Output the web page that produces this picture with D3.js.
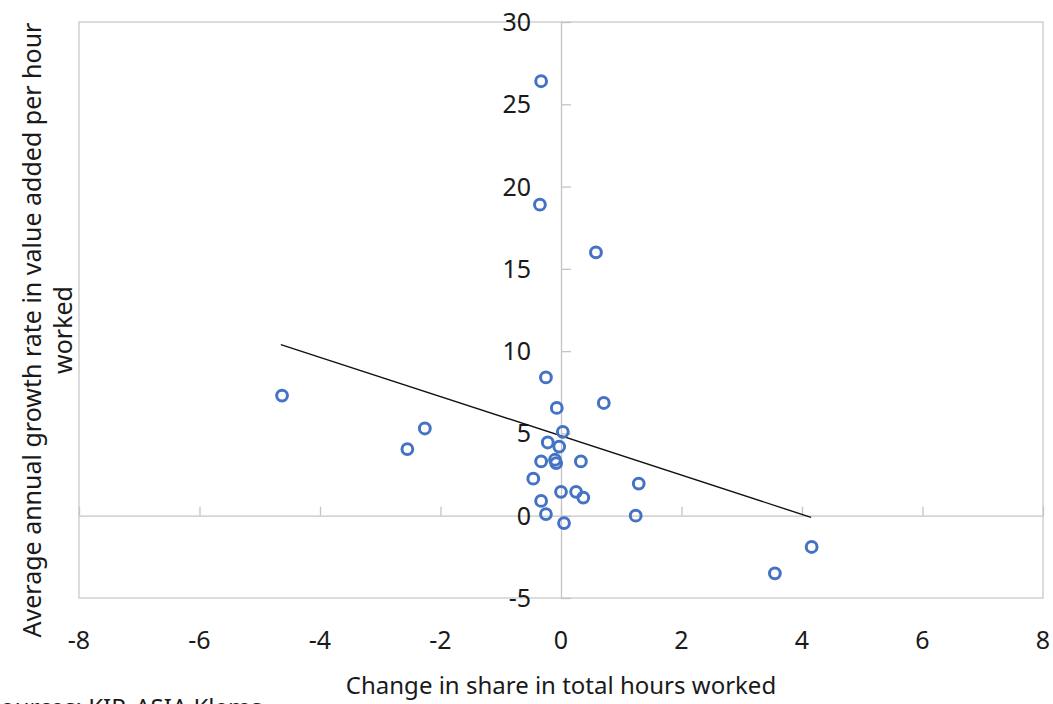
<!DOCTYPE html>
<html>
<head>
<meta charset="utf-8">
<script src="https://cdn.jsdelivr.net/npm/d3@7"></script>
<style>
  body { margin: 0; background: #fff; }
  svg { display: block; font-family: "Noto Sans", sans-serif; }
</style>
</head>
<body>
<svg id="chart" width="1053" height="704"></svg>
<script>
`use strict`;

// change in share of total hours worked (x) vs growth in VA per hour (y)
const shareChange = [-0.33, -0.35, 0.58, -0.25, 0.71, -0.07, 0.03, -0.22, -0.03, -0.33,
  -0.1, -0.08, 0.33, -0.46, 1.29, 0.0, 0.25, 0.37, -0.33, -0.25, 1.24, 0.05,
  -4.63, -2.55, -2.26, 4.16, 3.55];
const growthRate = [26.4, 18.9, 16.0, 8.4, 6.85, 6.55, 5.1, 4.45, 4.2, 3.3,
  3.4, 3.2, 3.3, 2.25, 1.95, 1.45, 1.45, 1.1, 0.9, 0.1, 0.0, -0.45,
  7.3, 4.05, 5.3, -1.9, -3.5];

const trendX = [-4.65, 4.15];
const trendY = [10.4, -0.1];

const xTicks = [-8, -6, -4, -2, 0, 2, 4, 6, 8];
const yTicks = [-5, 0, 5, 10, 15, 20, 25, 30];

(function () {

  const svg = d3.select(`#chart`);

  const x = d3.scaleLinear().domain([-8, 8]).range([79, 1043]);
  const y = d3.scaleLinear().domain([-5, 30]).range([598, 22]);

  // plot box
  svg.append(`rect`)
    .attr(`x`, x(-8)).attr(`y`, y(30))
    .attr(`width`, x(8) - x(-8)).attr(`height`, y(-5) - y(30))
    .attr(`fill`, `none`)
    .attr(`stroke`, `#c9c9c9`)
    .style(`stroke-width`, 1.3);

  // x axis sits on y = 0, ticks pointing up
  let xAxis = svg.append(`g`)
    .attr(`transform`, `translate(0,${y(0)})`)
    .call(d3.axisTop(x).tickValues(xTicks).tickSize(9).tickFormat(``).tickSizeOuter(0));

  // y axis sits on x = 0, ticks pointing right
  let yAxis = svg.append(`g`)
    .attr(`transform`, `translate(${x(0)},0)`)
    .call(d3.axisRight(y).tickValues(yTicks).tickSize(10).tickFormat(``).tickSizeOuter(0));

  [xAxis, yAxis].forEach(g => {
    g.select(`.domain`).attr(`stroke`, `#c4c4c4`).style(`stroke-width`, 1.3);
    g.selectAll(`.tick line`).attr(`stroke`, `#c4c4c4`).style(`stroke-width`, 1.3);
  });

  // tick labels
  svg.append(`g`).selectAll(`text`).data(xTicks)
    .enter()
    .append(`text`)
    .attr(`x`, d => x(d))
    .attr(`y`, 649)
    .attr(`text-anchor`, `middle`)
    .style(`font-size`, `25px`)
    .attr(`fill`, `#1a1a1a`)
    .text(d => d);

  svg.append(`g`).selectAll(`text`).data(yTicks)
    .enter()
    .append(`text`)
    .attr(`x`, 531)
    .attr(`y`, d => y(d))
    .attr(`dy`, `0.36em`)
    .attr(`text-anchor`, `end`)
    .style(`font-size`, `25px`)
    .attr(`fill`, `#1a1a1a`)
    .text(d => d);

  // trend line
  svg.append(`line`)
    .attr(`x1`, x(trendX[0])).attr(`y1`, y(trendY[0]))
    .attr(`x2`, x(trendX[1])).attr(`y2`, y(trendY[1]))
    .attr(`stroke`, `#111`)
    .style(`stroke-width`, 1.4);

  // markers
  svg.append(`g`).selectAll(`circle`).data(shareChange)
    .enter()
    .append(`circle`)
    .attr(`cx`, d => x(d))
    .attr(`cy`, (d, i) => y(growthRate[i]))
    .attr(`r`, 5.4)
    .attr(`fill`, `none`)
    .attr(`stroke`, `#4472c4`)
    .style(`stroke-width`, 3);

  // axis titles
  let yTitle = svg.append(`text`)
    .attr(`transform`, `translate(41,330) rotate(-90)`)
    .attr(`text-anchor`, `middle`)
    .style(`font-size`, `25px`)
    .attr(`fill`, `#1a1a1a`);
  yTitle.append(`tspan`).attr(`x`, 0).attr(`y`, 0).text(`Average annual growth rate in value added per hour`);
  yTitle.append(`tspan`).attr(`x`, 0).attr(`y`, 31).text(`worked`);

  svg.append(`text`)
    .attr(`x`, 561)
    .attr(`y`, 694)
    .attr(`text-anchor`, `middle`)
    .style(`font-size`, `24px`)
    .attr(`fill`, `#1a1a1a`)
    .text(`Change in share in total hours worked`);

  // source note, clipped by the page edge as in the original
  svg.append(`text`)
    .attr(`x`, -13)
    .attr(`y`, 716)
    .style(`font-size`, `24px`)
    .attr(`fill`, `#1a1a1a`)
    .text(`Sources: KIP, ASIA Klems`);

})();
</script>
</body>
</html>
